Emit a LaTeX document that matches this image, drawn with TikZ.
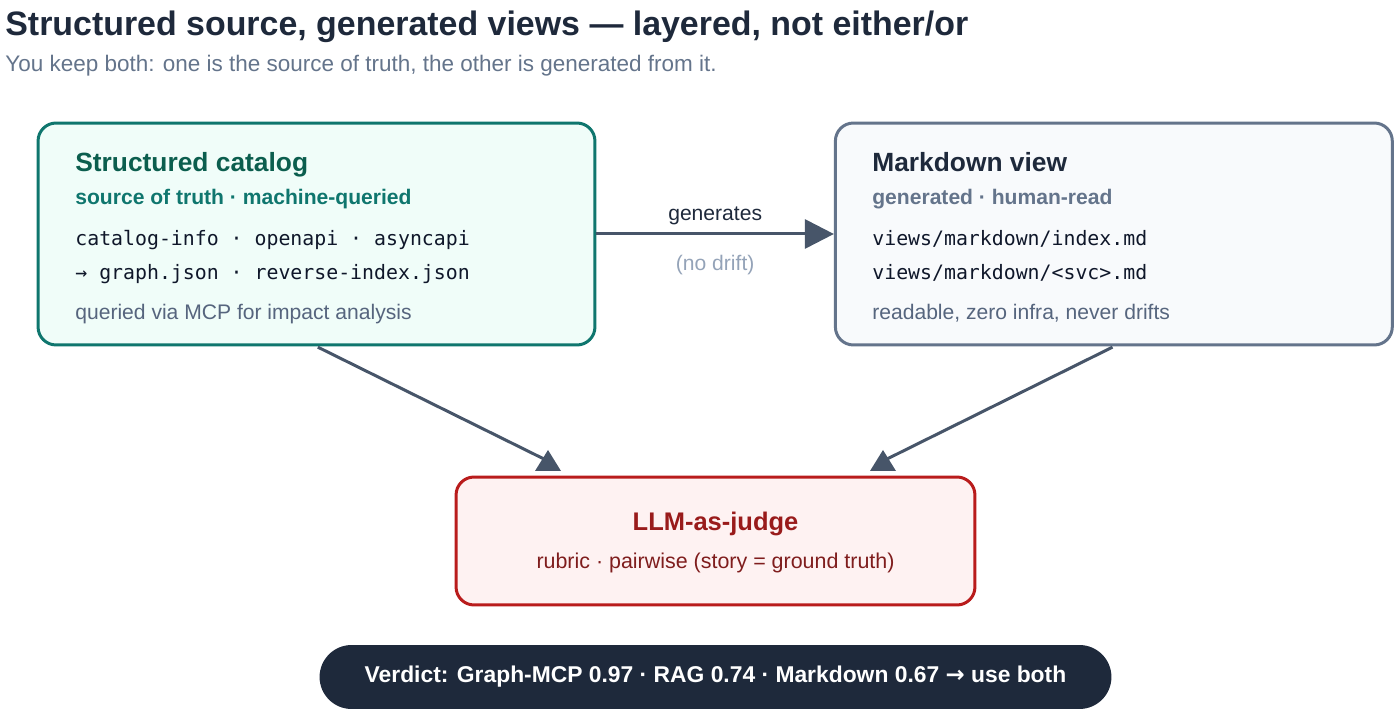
\documentclass[tikz,border=0pt]{standalone}
\usepackage{fontspec}
\setmainfont{Liberation Sans}
\setmonofont{DejaVu Sans Mono}
\newfontfamily\arrowfont{DejaVu Sans}
\usepackage{tikz}
\usetikzlibrary{arrows.meta, positioning}

\definecolor{ink}{HTML}{1E293B}
\definecolor{slate}{HTML}{64748B}
\definecolor{note}{HTML}{56657E}
\definecolor{code}{HTML}{0F172A}
\definecolor{edgec}{HTML}{475569}
\definecolor{faint}{HTML}{94A3B8}
\definecolor{tealline}{HTML}{0F766E}
\definecolor{tealfill}{HTML}{F0FDF9}
\definecolor{tealhead}{HTML}{0B5E4E}
\definecolor{mdfill}{HTML}{F8FAFC}
\definecolor{redline}{HTML}{B91C1C}
\definecolor{redfill}{HTML}{FEF2F2}
\definecolor{redhead}{HTML}{991B1B}
\definecolor{redtext}{HTML}{7F1D1D}

\begin{document}
\begin{tikzpicture}[x=0.02cm, y=-0.02cm,
  box/.style={rounded corners=0.36cm, line width=0.06cm, inner sep=0pt,
    minimum width=11.14cm, minimum height=4.44cm},
  txt/.style={anchor=base west, inner sep=0pt},
  boxhead/.style={txt, font=\fontsize{15}{18}\selectfont\bfseries},
  boxtag/.style={txt, font=\fontsize{12}{14}\selectfont\bfseries},
  codetxt/.style={txt, text=code, font=\fontsize{11.3}{14}\selectfont\ttfamily},
  notetxt/.style={txt, text=note, font=\fontsize{12}{14}\selectfont},
  flow/.style={draw=edgec, line width=0.06cm},
  node distance=15.95cm]
\useasboundingbox (0,0) rectangle (1400,712);

\node[txt, text=ink, font=\fontsize{19.3}{22}\selectfont\bfseries] (title) at (5,36)
  {Structured source, generated views — layered, not either/or};
\node[txt, text=slate, font=\fontsize{12.8}{15}\selectfont] (sub) at (5,72)
  {You keep both: one is the source of truth, the other is generated from it.};

\node[box, draw=tealline, fill=tealfill] (cat) at (316.5,234) {};
\node[box, draw=slate, fill=mdfill, right of=cat] (md) {};
\node[box, draw=redline, fill=redfill, minimum width=10.38cm, minimum height=2.56cm] (judge) at (715.5,541) {};

\node[boxhead, text=tealhead] (cathead) at (75,172) {Structured catalog};
\node[boxtag, text=tealline] (cattag) at (75,205) {source of truth · machine-queried};
\node[codetxt] (catcode1) at (75,246) {catalog-info · openapi · asyncapi};
\node[codetxt] (catcode2) at (75,280) {→ graph.json · reverse-index.json};
\node[notetxt] (catnote) at (75,320) {queried via MCP for impact analysis};

\node[boxhead, text=ink] (mdhead) at (872,172) {Markdown view};
\node[boxtag, text=slate] (mdtag) at (872,205) {generated · human-read};
\node[codetxt] (mdcode1) at (872,246) {views/markdown/index.md};
\node[codetxt] (mdcode2) at (872,280) {views/markdown/<svc>.md};
\node[notetxt] (mdnote) at (872,320) {readable, zero infra, never drifts};

\node[anchor=base, inner sep=0pt, text=redhead, font=\fontsize{14.5}{17}\selectfont\bfseries] (judgehead) at (715.5,531) {LLM-as-judge};
\node[anchor=base, inner sep=0pt, text=redtext, font=\fontsize{12.2}{14}\selectfont] (judgenote) at (715.5,569) {rubric · pairwise (story = ground truth)};

\node[fill=ink, rounded corners=0.64cm, minimum width=15.84cm, minimum height=1.28cm, inner sep=0pt,
  text=white, font=\fontsize{13}{15}\selectfont\bfseries] (verdict) at (715.5,677)
  {Verdict: Graph-MCP 0.97 · RAG 0.74 · Markdown 0.67 {\arrowfont→} use both};

\draw[flow, -{Triangle[length=0.58cm, width=0.58cm]}] (cat.east) -- node[above=0.04cm, text=ink, font=\fontsize{12}{14}\selectfont] (gen) {generates}
  node[below=0.28cm, text=faint, font=\fontsize{12}{14}\selectfont] (nodrift) {(no drift)} (md.west);
\coordinate (inL) at (548,461);
\coordinate (inR) at (883,461);
\draw[flow, shorten <=0.03cm] (cat.south) -- (inL);
\draw[flow, shorten <=0.03cm] (md.south) -- (inR);
\fill[edgec] (inL) ++(0,-11) -- ++(13,21) -- ++(-26,0) -- cycle;
\fill[edgec] (inR) ++(0,-11) -- ++(13,21) -- ++(-26,0) -- cycle;
\end{tikzpicture}
\end{document}
